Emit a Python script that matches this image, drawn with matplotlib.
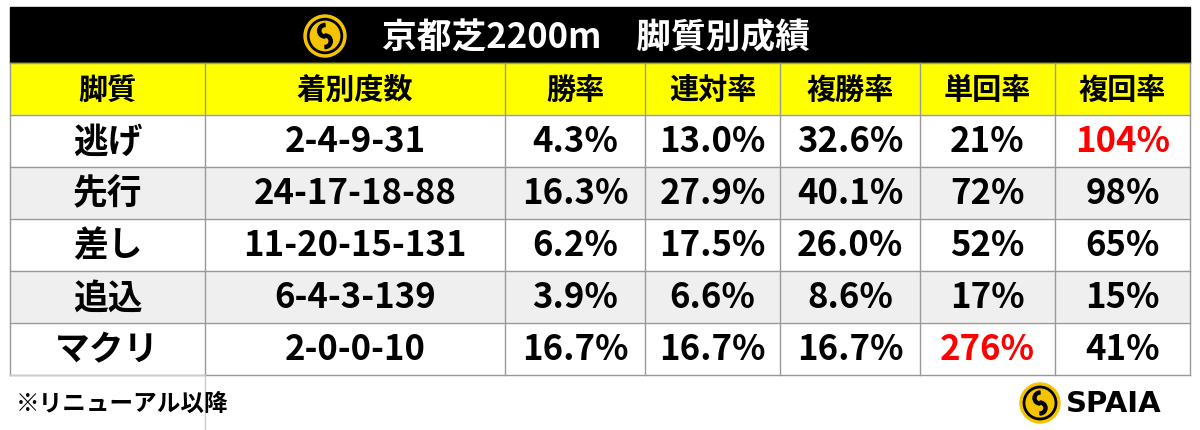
import matplotlib
matplotlib.use("Agg")
import matplotlib.pyplot as plt
from matplotlib.patches import Rectangle, Circle, Wedge

plt.rcParams['font.family'] = ['Noto Sans CJK JP', 'DejaVu Sans']

title = "京都芝2200m　脚質別成績"
headers = ["脚質", "着別度数", "勝率", "連対率", "複勝率", "単回率", "複回率"]
styles = ["逃げ", "先行", "差し", "追込", "マクリ"]
records = ["2-4-9-31", "24-17-18-88", "11-20-15-131", "6-4-3-139", "2-0-0-10"]
win = ["4.3%", "16.3%", "6.2%", "3.9%", "16.7%"]
ren = ["13.0%", "27.9%", "17.5%", "6.6%", "16.7%"]
fuku = ["32.6%", "40.1%", "26.0%", "8.6%", "16.7%"]
tan_ret = ["21%", "72%", "52%", "17%", "276%"]
fuku_ret = ["104%", "98%", "65%", "15%", "41%"]
note = "※リニューアル以降"

W, H = 1200, 431
fig = plt.figure(figsize=(12, 4.31), dpi=100)
ax = fig.add_axes([0, 0, 1, 1])
ax.set_xlim(0, W); ax.set_ylim(H, 0); ax.axis('off')

cols = [10, 205, 505, 645, 780, 920, 1055, 1190]
top_title, hdr_top, row_top, row_h = 8, 64, 116, 52

ax.add_patch(Rectangle((cols[0], top_title), cols[-1]-cols[0], hdr_top-top_title, color='black'))
ax.text(596, 38, title, color='white', fontsize=25, fontweight='bold', ha='center', va='center')
def logo(cx, cy, r):
    ax.add_patch(Circle((cx, cy), r, color='#f5c400'))
    ax.add_patch(Circle((cx, cy), r*0.8, fill=False, ec='black', lw=2))
    ax.add_patch(Wedge((cx, cy-r*0.25), r*0.35, 90, 270, width=r*0.15, color='black'))
    ax.add_patch(Wedge((cx, cy+r*0.25), r*0.35, 270, 90, width=r*0.15, color='black'))
logo(325, 37, 21)

ax.add_patch(Rectangle((cols[0], hdr_top), cols[-1]-cols[0], row_top-hdr_top, color='#ffff00'))
for j, h in enumerate(headers):
    ax.text((cols[j]+cols[j+1])/2, (hdr_top+row_top)/2, h, fontsize=21, fontweight='bold', ha='center', va='center')

data = [styles, records, win, ren, fuku, tan_ret, fuku_ret]
for i in range(len(styles)):
    y0 = row_top + i*row_h
    ax.add_patch(Rectangle((cols[0], y0), cols[-1]-cols[0], row_h, color='white' if i % 2 == 0 else '#efefef'))
    for j, col in enumerate(data):
        val = col[i]
        red = (j == 5 and val == "276%") or (j == 6 and val == "104%")
        ax.text((cols[j]+cols[j+1])/2, y0+row_h/2, val, fontsize=25, fontweight='bold',
                ha='center', va='center', color='#ff0000' if red else 'black')

bottom = row_top + len(styles)*row_h
for x in cols:
    ax.plot([x, x], [hdr_top, bottom], color='#999999', lw=1)
for k in range(len(styles)+2):
    y = hdr_top + (0 if k == 0 else (row_top-hdr_top) + (k-1)*row_h)
    ax.plot([cols[0], cols[-1]], [y, y], color='#999999', lw=1)

ax.plot([10, 205, 205], [bottom, bottom, H], color='#cccccc', lw=1)
ax.text(16, 404, note, fontsize=17, fontweight='bold', ha='left', va='center')
logo(1040, 404, 20)
ax.text(1066, 404, "SPAIA", fontsize=21, fontweight='bold', ha='left', va='center', family='DejaVu Sans')

fig.savefig("out.png", dpi=100)
